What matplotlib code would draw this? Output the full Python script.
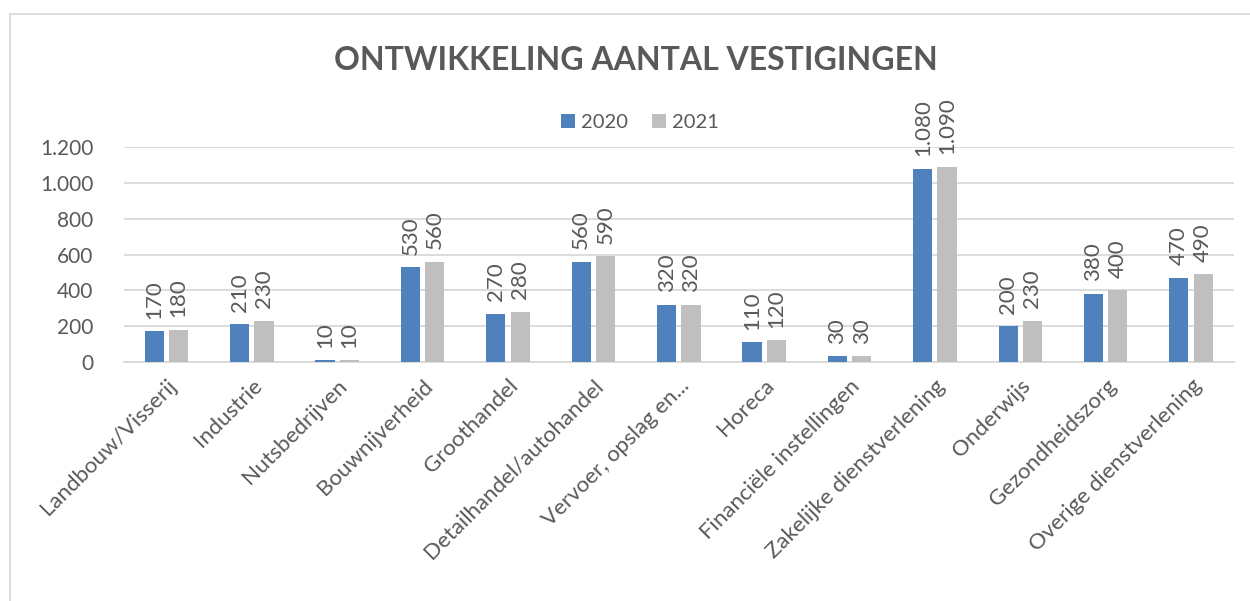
import numpy as np
import matplotlib
matplotlib.use("Agg")
from matplotlib import pyplot as plt
from matplotlib.patches import Rectangle

categories = ["Landbouw/Visserij", "Industrie", "Nutsbedrijven", "Bouwnijverheid",
              "Groothandel", "Detailhandel/autohandel", "Vervoer, opslag en...",
              "Horeca", "Financiële instellingen", "Zakelijke dienstverlening",
              "Onderwijs", "Gezondheidszorg", "Overige dienstverlening"]
v2020 = [170, 210, 10, 530, 270, 560, 320, 110, 30, 1080, 200, 380, 470]
v2021 = [180, 230, 10, 560, 280, 590, 320, 120, 30, 1090, 230, 400, 490]
years = ["2020", "2021"]

txt = "#595959"
plt.rcParams['font.family'] = ['Lato', 'DejaVu Sans']

fig = plt.figure(figsize=(12.5, 6.01), dpi=100)
ax = fig.add_axes([0.099, 0.398, 0.888, 0.357])

fig.patches.append(Rectangle((0.008, -0.1), 1.1, 1.077, transform=fig.transFigure,
                             fill=False, edgecolor="#d9d9d9", linewidth=1.2))

x = np.arange(len(categories))
w = 0.225
b1 = ax.bar(x - w / 2 - 0.03, v2020, w, color="#4f81bd", label=years[0], zorder=3)
b2 = ax.bar(x + w / 2 + 0.03, v2021, w, color="#bfbfbf", label=years[1], zorder=3)


def fmt(v):
    return f"{v:,}".replace(",", ".")


for bars, vals in [(b1, v2020), (b2, v2021)]:
    for r, v in zip(bars, vals):
        ax.annotate(fmt(v), (r.get_x() + r.get_width() / 2, v), xytext=(0, 9),
                    textcoords="offset points", rotation=90, ha="center", va="bottom",
                    fontsize=16, color=txt)

ax.set_xlim(-0.5, len(categories) - 0.5)
ax.set_ylim(0, 1200)
ax.set_yticks(range(0, 1201, 200))
ax.set_yticklabels([fmt(t) for t in range(0, 1201, 200)])
ax.grid(axis="y", color="#d9d9d9", linewidth=1.3, zorder=0)
for s in ["top", "right", "left"]:
    ax.spines[s].set_visible(False)
ax.spines["bottom"].set_color("#d9d9d9")
ax.spines["bottom"].set_linewidth(1.3)
ax.tick_params(axis="both", length=0, labelsize=15, labelcolor=txt)
ax.tick_params(axis="y", pad=22)
ax.tick_params(axis="x", labelsize=16, pad=10)
ax.set_xticks(x)
ax.set_xticklabels(categories, rotation=45, ha="right", rotation_mode="anchor")

fig.text(0.509, 0.900, "ONTWIKKELING AANTAL VESTIGINGEN", ha="center", va="center",
         fontsize=23, fontweight="bold", color=txt)
fig.legend(loc="center", bbox_to_anchor=(0.512, 0.796), ncol=2, frameon=False,
           fontsize=14.5, labelcolor=txt, handlelength=0.7, handleheight=0.7,
           handletextpad=0.3, columnspacing=1.2)

fig.savefig("out.png", dpi=100)
